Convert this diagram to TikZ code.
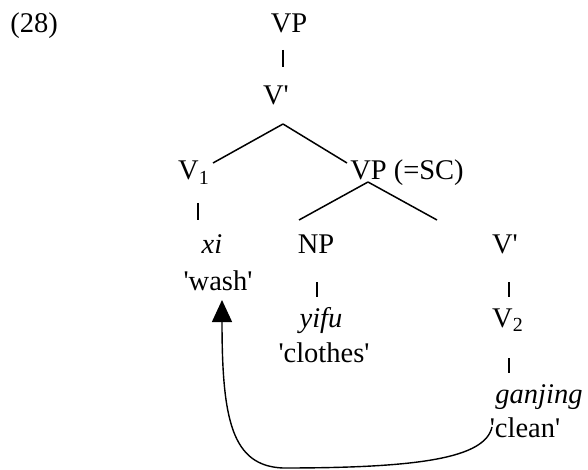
\documentclass[tikz,border=0pt]{standalone}
\usepackage{fontspec}
\setmainfont{Liberation Serif}[Ligatures=TeXOff]
\usetikzlibrary{calc, arrows.meta}

\begin{document}
\begin{tikzpicture}[
    x=0.5pt, y=-0.5pt,
    every node/.style = {
        font=\fontsize{14.25}{17}\selectfont, inner sep=0pt, anchor=base
    },
    branch/.style = {line width=0.75pt},
    move/.style = {line width=0.7pt, -{Triangle[width=10pt,length=11pt]}}
  ]
    \useasboundingbox (0,0) rectangle (588,470);
    \node[anchor=base west] (ex) at (10,33) {(28)};  % example number
    \node (vp) at (289,33) {VP};  % root
    \node (vbar) at (276,105) {V'};
    \node (v1) at (194,180) {V\textsubscript{1}};
    \node (sc) at (407,180) {VP (=SC)};  % small clause
    \node (xi) at (212,253) {\textit{xi}};
    \node (wash) at (218,290) {'wash'};
    \node (np) at (316,253) {NP};
    \node (vbarb) at (505,253) {V'};
    \node (yifu) at (321,327) {\textit{yifu}};
    \node (clothes) at (324,362) {'clothes'};
    \node (v2) at (508,327) {V\textsubscript{2}};
    \node (ganjing) at (539,403) {\textit{ganjing}};
    \node (clean) at (525,437) {'clean'};

    \draw[branch] ($(vp.base)+(-6,17)$) -- ($(vbar.base)+(7,-38)$);
    \draw[branch] ($(vbar.base)+(7,19)$) -- ($(v1.base)+(19,-17)$);
    \draw[branch] ($(vbar.base)+(7,19)$) -- ($(sc.base)+(-60,-17)$);
    \draw[branch] ($(v1.base)+(4,23)$) -- ($(xi.base)+(-14,-33)$);
    \draw[branch] ($(sc.base)+(-39,2)$) -- ($(np.base)+(-17,-33)$);
    \draw[branch] ($(sc.base)+(-39,2)$) -- ($(vbarb.base)+(-68,-33)$);
    \draw[branch] ($(np.base)+(1,29)$) -- ($(yifu.base)+(-4,-30)$);
    \draw[branch] ($(vbarb.base)+(4,29)$) -- ($(v2.base)+(1,-30)$);
    \draw[branch] ($(v2.base)+(1,31)$) -- ($(ganjing.base)+(-30,-30)$);

    % head movement of V2 up to V1
    \draw[move] ($(clean.base)+(-33,-10)$)
        .. controls (485,458) and (420,468) .. (283,468)
        .. controls (232,466) and (222,420) .. ($(wash.base)+(4,10)$);
\end{tikzpicture}
\end{document}
